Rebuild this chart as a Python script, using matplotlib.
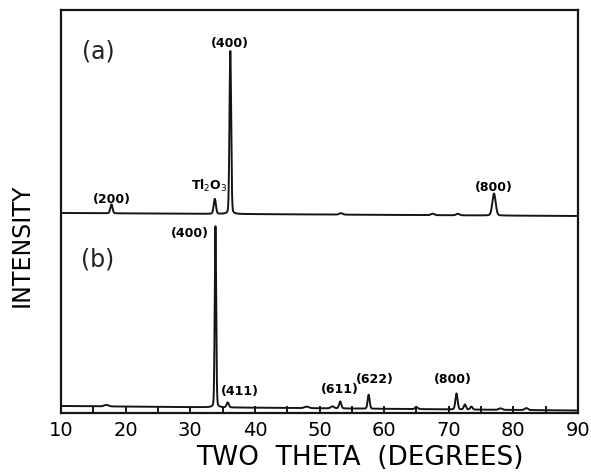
import numpy as np
import matplotlib
matplotlib.use("Agg")
import matplotlib.pyplot as plt

# ---- data (intensity in arbitrary units) ----
two_theta_range = [10, 90]

# trace (a): baseline (left, right), peak positions / heights / half widths
a_baseline = [200.0, 197.0]
a_pos = [17.8, 33.8, 36.2, 53.3, 67.5, 71.4, 77.0]
a_height = [9.0, 15.0, 163.0, 1.5, 1.5, 1.5, 22.0]
a_width = [0.2, 0.2, 0.15, 0.3, 0.3, 0.3, 0.3]

# trace (b)
b_baseline = [7.0, 2.5]
b_pos = [17.0, 33.9, 35.8, 48.0, 52.0, 53.2, 57.6, 65.0, 71.2, 72.5, 73.5, 78.0, 82.0]
b_height = [1.5, 181.0, 5.0, 1.5, 2.0, 7.0, 14.0, 2.0, 16.0, 5.0, 3.0, 1.5, 2.0]
b_width = [0.4, 0.13, 0.2, 0.4, 0.3, 0.2, 0.18, 0.25, 0.2, 0.2, 0.2, 0.3, 0.3]

xticks = [10, 20, 30, 40, 50, 60, 70, 80, 90]
minor_ticks = [15, 25, 35, 45, 55, 65, 75, 85]

# peak labels: (text, x, y)
a_labels = [("(400)", 36.1, 370), ("(200)", 17.9, 214), ("Tl$_2$O$_3$", 33.0, 227), ("(800)", 76.9, 225)]
b_labels = [("(400)", 30.0, 179), ("(411)", 37.7, 22), ("(611)", 53.2, 23), ("(622)", 58.5, 34), ("(800)", 70.7, 34)]
panel_labels = [("(a)", 15.8, 361), ("(b)", 15.6, 153)]


def trace(x, base, pos, h, w):
    y = base[0] + (base[1] - base[0]) * (x - x[0]) / (x[-1] - x[0])
    for p, hh, ww in zip(pos, h, w):
        g = np.exp(-np.log(2) * ((x - p) / ww) ** 2)
        lor = ww**2 / ((x - p) ** 2 + ww**2)
        y = y + hh * (0.85 * g + 0.15 * lor)
    return y


x = np.linspace(two_theta_range[0], two_theta_range[1], 8001)
ya = trace(x, a_baseline, a_pos, a_height, a_width)
yb = trace(x, b_baseline, b_pos, b_height, b_width)

fig = plt.figure(figsize=(5.91, 4.75), dpi=100)
ax = fig.add_axes([61 / 591, 62 / 475, 517 / 591, 403 / 475])
col = "#151515"
ax.plot(x, ya, color=col, lw=1.4)
ax.plot(x, yb, color=col, lw=1.4)
ax.set_xlim(*two_theta_range)
ax.set_ylim(0, 403)

for s in ax.spines.values():
    s.set_linewidth(1.6)
    s.set_color(col)

ax.set_xticks(xticks)
ax.set_xticks(minor_ticks, minor=True)
ax.tick_params(axis="x", which="both", direction="in", length=5, width=1.4,
               colors=col, labelsize=14, pad=6)
ax.tick_params(axis="x", labelcolor="black")
ax.set_yticks([])

ax.set_xlabel("TWO  THETA  (DEGREES)", fontsize=19)
ax.xaxis.set_label_coords((360 - 61) / 517, -(458 - 413) / 403)
ax.xaxis.label.set_va("center")
ax.set_ylabel("INTENSITY", fontsize=17)
ax.yaxis.set_label_coords(-(61 - 22) / 517, (413 - 245) / 403)
ax.yaxis.label.set_va("center")

for t, xx, yy in a_labels + b_labels:
    ax.text(xx, yy, t, ha="center", va="center", fontsize=9, fontweight="bold")
for t, xx, yy in panel_labels:
    ax.text(xx, yy, t, ha="center", va="center", fontsize=17, color="#222222")

fig.savefig("out.png", dpi=100)
